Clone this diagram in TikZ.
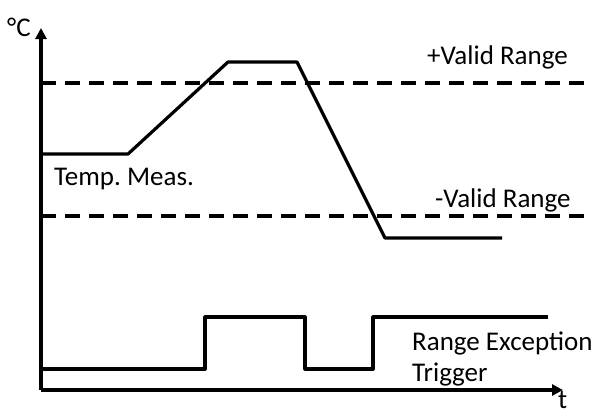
\documentclass[tikz,border=0pt]{standalone}
\usepackage{fontspec}
\setmainfont{Carlito}
\usetikzlibrary{arrows.meta}
\begin{document}
\frenchspacing
\begin{tikzpicture}[x=1pt,y=-1pt,
  curve/.style={line width=3.2pt,line join=round},
  axis/.style={line width=3.2pt,-{Triangle[length=11pt,width=11pt]}},
  rangeline/.style={line width=3.2pt,dash pattern=on 15pt off 9pt},
  lbl/.style={anchor=base west,inner sep=0pt,font=\fontsize{27}{32}\selectfont}]
\useasboundingbox (0,0) rectangle (599,410);
\coordinate (o) at (41,390);
\coordinate (ytop) at (41,28);
\coordinate (xend) at (563,390);
\draw[axis] (o) -- (ytop);
\draw[axis] (o) -- (xend);
\node[lbl] (deg) at (7,36) {°C};
\node[lbl] (t) at (558,408) {t};
% valid range lines
\coordinate (p1) at (41,83); \coordinate (p2) at (588,83);
\coordinate (m1) at (41,216); \coordinate (m2) at (588,216);
\draw[rangeline] (p1) -- (p2);
\draw[rangeline] (m1) -- (m2);
\node[lbl] (plus) at (427,64) {+Valid Range};
\node[lbl] (minus) at (435,207) {-Valid Range};
% temperature
\draw[curve] (41,154) -- (128,154) -- (228,62) -- (297,62) -- (385,238) -- (502,238);
\node[lbl] (temp) at (54,185) {Temp. Meas.};
% trigger
\draw[curve] (41,369) -- (205,369) -- (205,317) -- (305,317) -- (305,369) -- (373,369) -- (373,317) -- (548,317);
\node[lbl] (rex) at (412,350) {Range Exception};
\node[lbl] (trig) at (412,381) {Trigger};
\end{tikzpicture}
\end{document}
